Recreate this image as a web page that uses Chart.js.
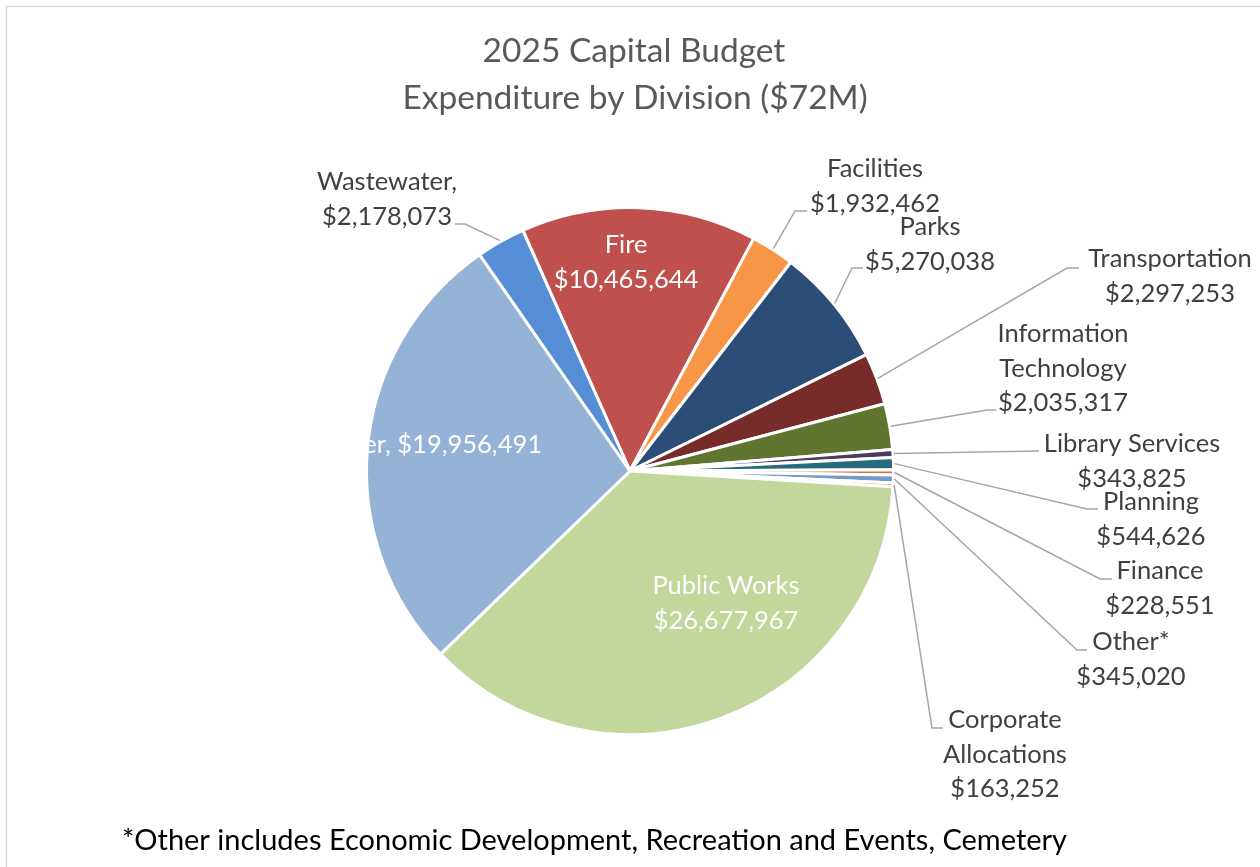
<!DOCTYPE html>
<html>
<head>
<meta charset="utf-8">
<title>2025 Capital Budget</title>
<script src="https://cdn.jsdelivr.net/npm/chart.js@4.4.1/dist/chart.umd.min.js"></script>
<style>
    html, body { margin: 0; padding: 0; background: #ffffff; }
    #wrap { position: relative; width: 1260px; height: 867px; overflow: hidden; }
</style>
</head>
<body>
<div id="wrap"><canvas id="budgetChart" width="1260" height="867"></canvas></div>
<script>
// --- Data ---
const categories = ['Fire', 'Facilities', 'Parks', 'Transportation', 'Information Technology',
    'Library Services', 'Planning', 'Finance', 'Other*', 'Corporate Allocations',
    'Public Works', 'Water', 'Wastewater'];
const amounts = [10465644, 1932462, 5270038, 2297253, 2035317,
    343825, 544626, 228551, 345020, 163252,
    26677967, 19956491, 2178073];
const sliceColors = ['#c0504d', '#f79646', '#2c4d75', '#772c2a', '#5f7530',
    '#4d3b62', '#276a7c', '#c77a3a', '#729aca', '#d99694',
    '#c3d69b', '#95b3d7', '#558ed5'];
const titleLines = ['2025 Capital Budget', 'Expenditure by Division ($72M)'];
const footnote = '*Other includes Economic Development, Recreation and Events, Cemetery';

// label placement (layout only, in slice order)
const labelLayout = [
    { mode: 'inside', x: 626, y: 253 },
    { mode: 'stack', x: 875, y: 177, elbow: [795, 211], end: [807, 211] },
    { mode: 'stack', x: 930, y: 235, elbow: [852, 268], end: [863, 268] },
    { mode: 'stack', x: 1170, y: 267, elbow: [1067, 268], end: [1079, 268] },
    { mode: 'split', x: 1063, y: 342, elbow: [987, 410], end: [996, 410] },
    { mode: 'stack', x: 1132, y: 452, elbow: [1039, 451], end: [1039, 451] },
    { mode: 'stack', x: 1151, y: 510, elbow: [1087, 509], end: [1098, 509] },
    { mode: 'stack', x: 1160, y: 579, elbow: [1100, 579], end: [1112, 579] },
    { mode: 'stack', x: 1131, y: 650, elbow: [1077, 650], end: [1087, 650] },
    { mode: 'split', x: 1005, y: 728, elbow: [932, 728], end: [943, 728] },
    { mode: 'inside', x: 726, y: 594 },
    { mode: 'inline', x: 542, y: 453 },
    { mode: 'comma', x: 387, y: 190, elbow: [465, 224], end: [455, 224] }
];

const FONT = 'Lato, "Open Sans", sans-serif';
const fmt = v => '$' + v.toLocaleString('en-US');

function labelLines(i, mode) {
    const name = categories[i];
    const val = fmt(amounts[i]);
    if (mode === 'inline') return [name + ', ' + val];
    if (mode === 'comma') return [name + ',', val];
    if (mode === 'split') return name.split(' ').concat([val]);
    return [name, val];
}

// --- Plugin: frame, title, callouts, footnote ---
const calloutPlugin = {
    id: 'callouts',
    beforeDraw(chart) {
        const ctx = chart.ctx;
        ctx.save();
        ctx.fillStyle = '#ffffff';
        ctx.fillRect(0, 0, chart.width, chart.height);
        ctx.strokeStyle = '#d9d9d9';
        ctx.lineWidth = 1.5;
        ctx.strokeRect(6.5, 6.5, 1400, 1000);
        ctx.restore();
    },
    afterDatasetsDraw(chart) {
        const ctx = chart.ctx;
        const meta = chart.getDatasetMeta(0);
        ctx.save();

        // title
        ctx.fillStyle = '#595959';
        ctx.textAlign = 'center';
        ctx.textBaseline = 'alphabetic';
        ctx.font = '33.5px ' + FONT;
        ctx.fillText(titleLines[0], 634, 62);
        ctx.fillText(titleLines[1], 635, 109);

        meta.data.forEach((arc, i) => {
            const spec = labelLayout[i];
            const lines = labelLines(i, spec.mode);
            ctx.font = '25.5px ' + FONT;
            if (spec.mode === 'inside' || spec.mode === 'inline') {
                ctx.fillStyle = '#ffffff';
                ctx.textAlign = spec.mode === 'inline' ? 'right' : 'center';
            } else {
                // leader line from the slice edge
                const mid = (arc.startAngle + arc.endAngle) / 2;
                const r = arc.outerRadius + 1;
                const px = arc.x + Math.cos(mid) * r;
                const py = arc.y + Math.sin(mid) * r;
                ctx.strokeStyle = '#a6a6a6';
                ctx.lineWidth = 1.5;
                ctx.beginPath();
                ctx.moveTo(px, py);
                ctx.lineTo(spec.elbow[0], spec.elbow[1]);
                ctx.lineTo(spec.end[0], spec.end[1]);
                ctx.stroke();
                ctx.fillStyle = '#404040';
                ctx.textAlign = 'center';
            }
            lines.forEach((t, k) => ctx.fillText(t, spec.x, spec.y + k * 34.5));
        });

        // footnote
        ctx.fillStyle = '#000000';
        ctx.textAlign = 'left';
        ctx.font = '29px ' + FONT;
        ctx.fillText(footnote, 122, 850);
        ctx.restore();
    }
};

// --- Chart ---
new Chart(document.getElementById('budgetChart').getContext('2d'), {
    type: 'pie',
    data: {
        labels: categories,
        datasets: [{
            data: amounts,
            backgroundColor: sliceColors,
            borderColor: '#ffffff',
            borderWidth: 3
        }]
    },
    options: {
        responsive: false,
        animation: false,
        devicePixelRatio: 1,
        rotation: -24,
        layout: { padding: { left: 365, right: 365, top: 206, bottom: 131 } },
        plugins: {
            legend: { display: false },
            tooltip: { enabled: false }
        }
    },
    plugins: [calloutPlugin]
});
</script>
</body>
</html>
